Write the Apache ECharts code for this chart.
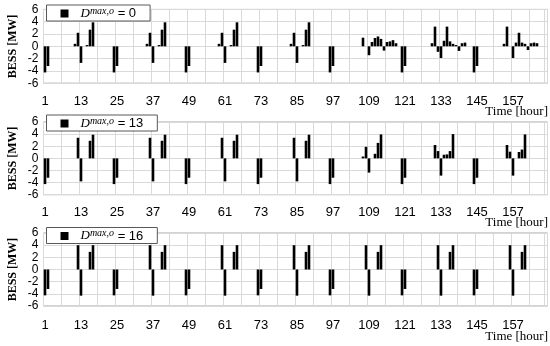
<!DOCTYPE html>
<html><head><meta charset="utf-8">
<script src="https://cdn.jsdelivr.net/npm/echarts@6/dist/echarts.min.js"></script>
<style>html,body{margin:0;padding:0;background:#fff}#c{width:550px;height:346px}</style>
</head><body><div id="c"></div>
<script>
// ---- data ----
const tickLabels = ['1','13','25','37','49','61','73','85','97','109','121','133','145','157'];
const legendValues = ['0','13','16'];
const seriesNames = ['Dmax0','Dmax13','Dmax16'];

// BESS power [MW], hours 1..168 (one line per day)
const besD0 = [
  -4.25,-3.2,0,0,0,0,0,0,0,0,0.4,2.2,-2.7,0,0.2,2.7,3.9,0,0,0,0,0,0,-4.25,
  -3.2,0,0,0,0,0,0,0,0,0,0.4,2.2,-2.7,0,0.2,2.7,3.9,0,0,0,0,0,0,-4.25,
  -3.2,0,0,0,0,0,0,0,0,0,0.4,2.2,-2.7,0,0.2,2.7,3.9,0,0,0,0,0,0,-4.25,
  -3.2,0,0,0,0,0,0,0,0,0,0.4,2.2,-2.7,0,0.2,2.7,3.9,0,0,0,0,0,0,-4.25,
  -3.2,0,0,0,0,0,0,0,0,0,1.4,0,-1.45,0.7,1.35,1.6,1.2,-0.7,0.7,0.8,1.0,0.5,0,-4.25,
  -3.2,0,0,0,0,0,0,0,0,0.5,3.2,-0.9,-1.9,0.9,3.2,0.8,0.4,0.2,-0.75,0.5,0.6,0,0,-4.25,
  -3.2,0,0,0,0,0,0,0,0,0.4,3.2,0,-1.9,0.6,2.2,0.6,0.4,-0.6,0.5,0.6,0.5,0,0,0
];
const besD13 = [
  -4.25,-3.2,0,0,0,0,0,0,0,0,0,3.4,-3.8,0,0,2.9,3.9,0,0,0,0,0,0,-4.25,
  -3.2,0,0,0,0,0,0,0,0,0,0,3.4,-3.8,0,0,2.9,3.9,0,0,0,0,0,0,-4.25,
  -3.2,0,0,0,0,0,0,0,0,0,0,3.4,-3.8,0,0,2.9,3.9,0,0,0,0,0,0,-4.25,
  -3.2,0,0,0,0,0,0,0,0,0,0,3.4,-3.8,0,0,2.9,3.9,0,0,0,0,0,0,-4.25,
  -3.2,0,0,0,0,0,0,0,0,0,0.3,1.9,-2.35,0,0.75,2.55,3.95,0,0,0,0,0,0,-4.25,
  -3.2,0,0,0,0,0,0,0,0,0,2.2,1.2,-2.85,0.6,0.65,1.2,4.0,0,0,0,0,0,0,-4.25,
  -3.2,0,0,0,0,0,0,0,0,0,2.2,1.1,-2.85,0,1.05,1.45,3.95,0,0,0,0,0,0,0
];
const besD16 = [
  -4.25,-3.2,0,0,0,0,0,0,0,0,0,4.0,-4.3,0,0,2.9,4.0,0,0,0,0,0,0,-4.25,
  -3.2,0,0,0,0,0,0,0,0,0,0,4.0,-4.3,0,0,2.9,4.0,0,0,0,0,0,0,-4.25,
  -3.2,0,0,0,0,0,0,0,0,0,0,4.0,-4.3,0,0,2.9,4.0,0,0,0,0,0,0,-4.25,
  -3.2,0,0,0,0,0,0,0,0,0,0,4.0,-4.3,0,0,2.9,4.0,0,0,0,0,0,0,-4.25,
  -3.2,0,0,0,0,0,0,0,0,0,0,4.0,-4.3,0,0,2.9,4.0,0,0,0,0,0,0,-4.25,
  -3.2,0,0,0,0,0,0,0,0,0,0,4.0,-4.3,0,0,2.9,4.0,0,0,0,0,0,0,-4.25,
  -3.2,0,0,0,0,0,0,0,0,0,0,4.0,-4.3,0,0,2.9,4.0,0,0,0,0,0,0,0
];
const panelData = [besD0, besD13, besD16];
const hours = besD0.map((_, i) => String(i + 1));

// ---- layout ----
const grids = [
  {top: 9.4, height: 73.8, labelMargin: 11.5, legendTop: 5, timeY: 112, nameY: 46.3},
  {top: 122, height: 72.7, labelMargin: 11, legendTop: 115, timeY: 222.5, nameY: 158.3},
  {top: 233, height: 73, labelMargin: 13, legendTop: 227.5, timeY: 336.5, nameY: 269.5}
];
const GL = 43.5, GW = 504;

const option = {
  animation: false,
  backgroundColor: '#fff',
  grid: grids.map(g => ({left: GL, width: GW, top: g.top, height: g.height,
    show: true, borderColor: '#a6a6a6', borderWidth: 1, backgroundColor: 'transparent'})),
  xAxis: grids.map((g, i) => ({
    type: 'category', gridIndex: i, data: hours, boundaryGap: true,
    axisLine: {show: false}, axisTick: {show: false},
    axisLabel: {
      interval: 0, margin: g.labelMargin, fontSize: 13, color: '#000',
      fontFamily: 'Liberation Sans',
      formatter: v => tickLabels.includes(v) ? v : ''
    },
    splitLine: {show: true, interval: 5, lineStyle: {color: '#d9d9d9', width: 1}}
  })),
  yAxis: grids.map((g, i) => ({
    type: 'value', gridIndex: i, min: -6, max: 6, interval: 2,
    axisLine: {show: false}, axisTick: {show: false},
    axisLabel: {margin: 5, fontSize: 12, color: '#000', fontFamily: 'Liberation Sans'},
    splitLine: {show: true, lineStyle: {color: '#d9d9d9', width: 1}}
  })),
  legend: grids.map((g, i) => ({
    data: [seriesNames[i]], left: 46.5, top: g.legendTop,
    icon: 'rect', itemWidth: 8, itemHeight: 8,
    backgroundColor: '#fff', borderColor: '#595959', borderWidth: 1,
    padding: [1, 14, 1, 14], selectedMode: false,
    formatter: () => '{d|D}{s|max,o}{e| = ' + legendValues[i] + '}',
    textStyle: {
      color: '#000', lineHeight: 13,
      rich: {
        d: {fontFamily: 'Liberation Serif', fontStyle: 'italic', fontSize: 13, padding: [0, 0, 0, 7]},
        s: {fontFamily: 'Liberation Serif', fontStyle: 'italic', fontSize: 10, padding: [0, 0, 5, 0]},
        e: {fontFamily: 'Liberation Sans', fontSize: 13}
      }
    }
  })),
  graphic: grids.flatMap(g => [
    {type: 'text', x: 548, y: g.timeY, style: {text: 'Time [hour]', align: 'right', verticalAlign: 'middle',
      font: '13px "Liberation Serif"', fill: '#000'}},
    {type: 'text', x: 12.5, y: g.nameY, rotation: Math.PI / 2, style: {text: 'BESS [MW]', align: 'center',
      verticalAlign: 'middle', font: 'bold 12px "Liberation Serif"', fill: '#000'}}
  ]),
  series: panelData.map((d, i) => ({
    name: seriesNames[i], type: 'bar', xAxisIndex: i, yAxisIndex: i,
    data: d, barWidth: 2.6, itemStyle: {color: '#000'}, silent: true
  }))
};
const chart = echarts.init(document.getElementById('c'), null, {renderer: 'canvas'});
chart.setOption(option);
</script></body></html>
